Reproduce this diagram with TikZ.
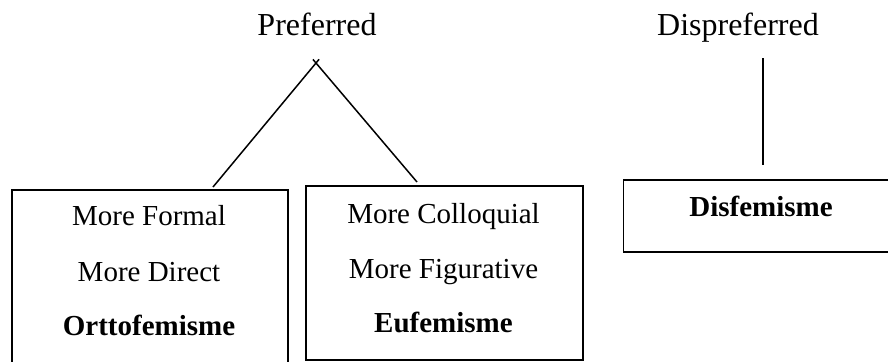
\documentclass[tikz,border=0pt]{standalone}
\usepackage{fontspec}
\setmainfont{Liberation Serif}
\usetikzlibrary{positioning,calc}

\tikzset{
  head text/.style={font=\fontsize{16}{19}\selectfont, inner sep=0pt, anchor=base},
  label text/.style={font=\fontsize{14.5}{17}\selectfont, inner sep=0pt, anchor=base},
  term text/.style={label text, font=\fontsize{14.5}{17}\selectfont\bfseries},
  frame/.style={draw, rectangle, anchor=north west, inner sep=0pt}
}

\begin{document}
\begin{tikzpicture}[x=0.5pt, y=-0.5pt, line width=0.75pt]
    % Canvas
    \useasboundingbox (0,0) rectangle (888,361);
    \clip (0,0) rectangle (888,361);

    % Headings
    \node[head text] (pref) at (317,35) {Preferred};
    \node[head text] (dispref) at (738,35) {Dispreferred};

    % Boxes
    \node[frame, minimum width=138pt, minimum height=95pt] (ortho) at (11,189) {};
    \node[frame, minimum width=138.5pt, minimum height=87pt] (eufe) at (305,185) {};
    \node[frame, minimum width=138.5pt, minimum height=36pt] (disfe) at (622.5,179) {};

    % Box contents
    \node[label text] (formal) at (149,225) {More Formal};
    \node[label text] (direct) at (149,281.5) {More Direct};
    \node[term text] (orto) at (149,335.5) {Orttofemisme};

    \node[label text] (colloq) at (443.5,223) {More Colloquial};
    \node[label text] (figur) at (443.5,278) {More Figurative};
    \node[term text] (eufem) at (443.5,332.5) {Eufemisme};

    \node[term text] (disfem) at (761,216.5) {Disfemisme};

    % Branches
    \coordinate (apex) at (316,63);
    \coordinate (lfoot) at (213,187);
    \coordinate (rfoot) at (417,182);
    \draw (lfoot) -- ($(lfoot)!1.03!(apex)$);
    \draw (rfoot) -- ($(rfoot)!1.03!(apex)$);

    \coordinate (dtop) at (763,58);
    \coordinate (dfoot) at (763,165);
    \draw (dtop) -- (dfoot);
\end{tikzpicture}
\end{document}
